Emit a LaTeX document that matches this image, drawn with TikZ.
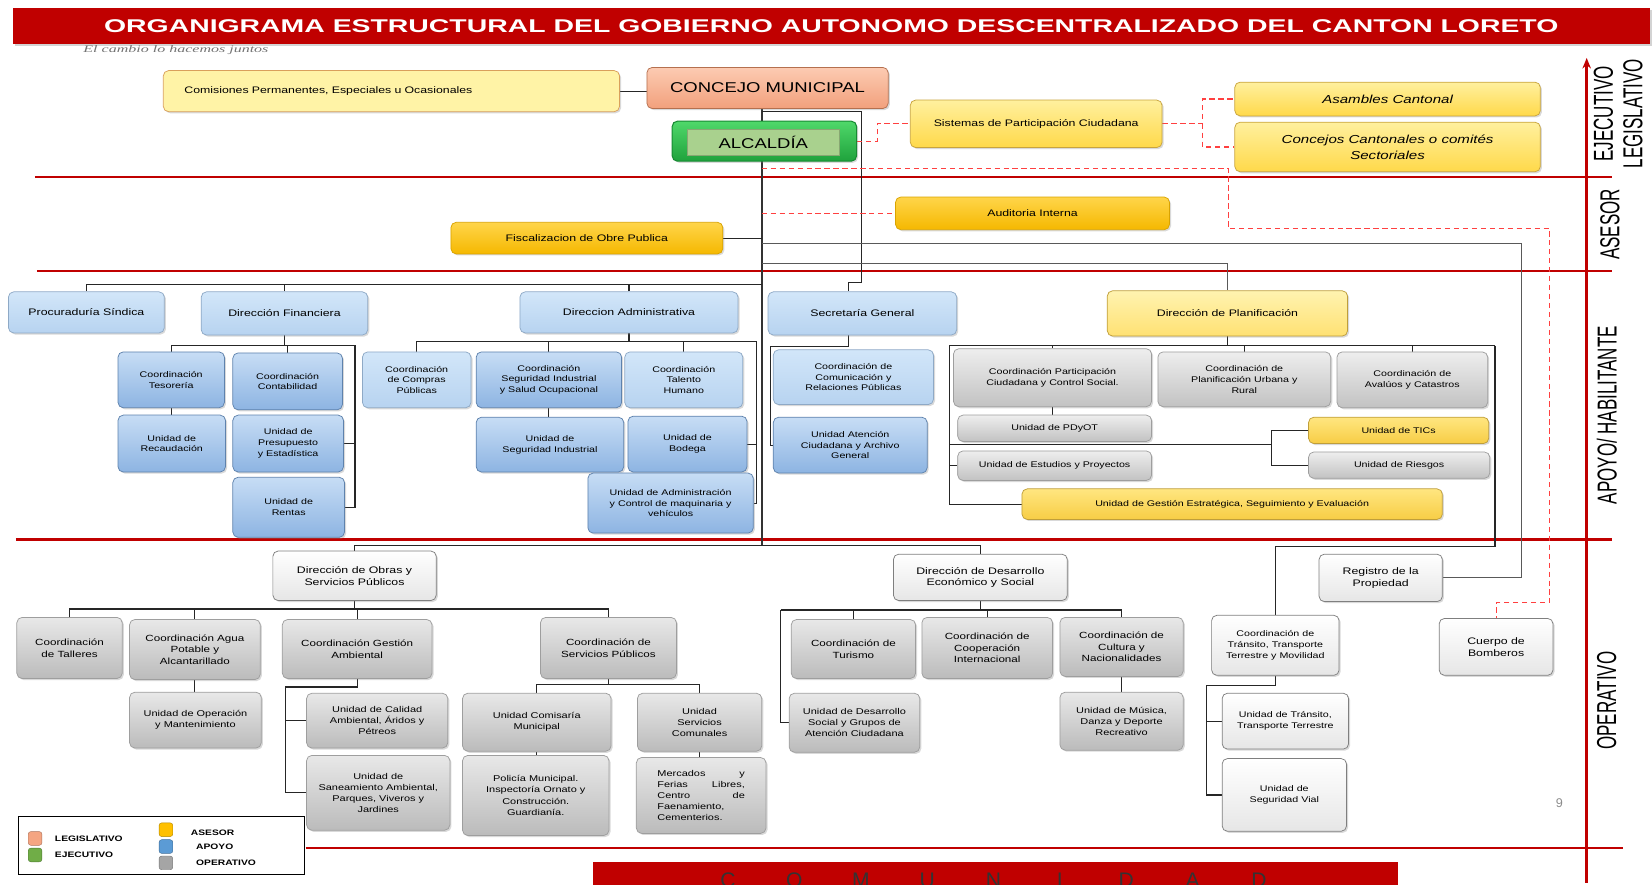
\documentclass[tikz,border=0pt]{standalone}
\usepackage{fontspec}
\setmainfont{Liberation Sans}[FakeStretch=1.3]
\newfontfamily\titlefont{Liberation Sans}[FakeStretch=1.54]
\newfontfamily\sidefont{Liberation Sans}[FakeStretch=0.62]
\newfontfamily\plainfont{Liberation Sans}
\newfontfamily\mottofont{Liberation Serif}[FakeStretch=1.6]
\usetikzlibrary{arrows.meta,shadows}
\pgfdeclarelayer{back}
\pgfsetlayers{back,main}

\definecolor{bandred}{HTML}{C00000}
\definecolor{dashred}{HTML}{FF4040}
\definecolor{comF}{HTML}{FFF3A6}\definecolor{comB}{HTML}{D9A05B}
\definecolor{concT}{HTML}{FCCBB2}\definecolor{concD}{HTML}{F2A07C}\definecolor{concB}{HTML}{B5704F}
\definecolor{alcT}{HTML}{4FD86A}\definecolor{alcD}{HTML}{1FA23C}\definecolor{alcB}{HTML}{178A33}
\definecolor{alcIn}{HTML}{A9D18E}
\definecolor{parT}{HTML}{FFF09E}\definecolor{parD}{HTML}{FFD94A}\definecolor{parB}{HTML}{C9A43C}
\definecolor{aseT}{HTML}{FFD54A}\definecolor{aseD}{HTML}{F5B800}\definecolor{aseB}{HTML}{D9A300}
\definecolor{dirT}{HTML}{D2E6F9}\definecolor{dirD}{HTML}{B7D3F0}\definecolor{dirB}{HTML}{8EA9C6}
\definecolor{coT}{HTML}{C7DDF5}\definecolor{coD}{HTML}{8DB4E2}\definecolor{coB}{HTML}{5E82AD}
\definecolor{grT}{HTML}{EEEEEE}\definecolor{grD}{HTML}{C2C2C2}\definecolor{grB}{HTML}{9E9E9E}
\definecolor{plT}{HTML}{FFF3B0}\definecolor{plD}{HTML}{FFE173}\definecolor{plB}{HTML}{BF9E3A}
\definecolor{tiT}{HTML}{FFE680}\definecolor{tiD}{HTML}{F7CD45}
\definecolor{opT}{HTML}{FFFFFF}\definecolor{opD}{HTML}{E6E6E6}\definecolor{opB}{HTML}{7F7F7F}
\definecolor{ogT}{HTML}{E8E8E8}\definecolor{ogD}{HTML}{BBBBBB}
\definecolor{legO}{HTML}{F4A582}\definecolor{legG}{HTML}{70AD47}\definecolor{legY}{HTML}{FFC000}
\definecolor{legB}{HTML}{5B9BD5}\definecolor{legS}{HTML}{A5A5A5}

\newcommand\fDir{\fontsize{9}{11}\selectfont}
\newcommand\fSmall{\fontsize{7.8}{10.2}\selectfont}
\newcommand\fOpc{\fontsize{8.5}{11}\selectfont}
\newcommand\fOpu{\fontsize{8}{10.5}\selectfont}

\tikzset{
  wh/.style 2 args={minimum width=#1, minimum height=#2},
  box/.style={draw, rounded corners=5pt, line width=.7pt, align=center, inner sep=1.5pt,
              drop shadow={opacity=.3, shadow xshift=1.5pt, shadow yshift=-1.5pt}},
  comis/.style={box, draw=comB, fill=comF, font=\fDir},
  legis/.style={box, draw=concB, top color=concT, bottom color=concD},
  ejec/.style={box, draw=alcB, top color=alcT, bottom color=alcD, line width=1pt},
  partic/.style={box, draw=parB, top color=parT, bottom color=parD},
  asesor/.style={box, draw=aseB, top color=aseT, bottom color=aseD, font=\fDir},
  apdir/.style={box, draw=dirB, top color=dirT, bottom color=dirD, font=\fDir},
  apco/.style={box, draw=coB, top color=coT, bottom color=coD, font=\fSmall},
  apgris/.style={box, draw=grB, top color=grT, bottom color=grD, font=\fSmall},
  plandir/.style={box, draw=plB, top color=plT, bottom color=plD, font=\fDir},
  planam/.style={box, draw=plB, top color=tiT, bottom color=tiD, font=\fSmall},
  opdir/.style={box, draw=opB, top color=opT, bottom color=opD, font=\fDir},
  oplite/.style={box, draw=opB, top color=opT, bottom color=opD, font=\fSmall},
  opco/.style={box, draw=grB, top color=ogT, bottom color=ogD, font=\fOpc},
  opun/.style={box, draw=grB, top color=ogT, bottom color=ogD, font=\fOpu},
  conn/.style={draw=black!85, line width=1.1pt},
  trunk/.style={draw=black!80, line width=2.2pt},
  thinline/.style={draw=black!65, line width=.9pt},
  reddash/.style={draw=dashred, line width=1.1pt, dash pattern=on 5pt off 3.5pt},
  band/.style={draw=bandred, line width=2.4pt},
  side/.style={font=\sidefont\fontsize{26}{28}\selectfont, inner sep=0pt, rotate=90},
  legsq/.style={rounded corners=2.5pt, draw=#1!70!black, fill=#1, wh={13}{13}, inner sep=0pt},
  legtx/.style={anchor=west, font=\bfseries\fontsize{7.5}{9}\selectfont, inner sep=0pt}
}

\begin{document}
\begin{tikzpicture}[x=1pt,y=-1pt]
  \useasboundingbox (0,0) rectangle (1568,840);
  \node[fill=bandred, wh={1554}{34}, inner sep=0pt, text=white,
        font=\titlefont\bfseries\fontsize{17.5}{20}\selectfont,
        drop shadow={opacity=.35, shadow xshift=2pt, shadow yshift=-2pt}] (titulo) at (789,24.5)
        {ORGANIGRAMA ESTRUCTURAL DEL GOBIERNO AUTONOMO DESCENTRALIZADO DEL CANTON LORETO};
  \node[text=black!55, font=\mottofont\itshape\fontsize{9.5}{11}\selectfont] (lema) at (167,48) {El cambio lo hacemos juntos};

  \node[comis, wh={433}{39}, align=left, text width=393] (com) at (371.5,86.5) {Comisiones Permanentes, Especiales u Ocasionales};
  \node[legis, wh={229}{39}, font=\fontsize{13.5}{15}\selectfont] (conc) at (728.5,83.5) {CONCEJO MUNICIPAL};
  \node[ejec, wh={175}{38}] (alc) at (725.5,134) {};
  \node[draw=alcIn!80!black, fill=alcIn, wh={145}{24}, inner sep=0pt, font=\fontsize{13.5}{15}\selectfont] (alct) at (724.5,135) {ALCALDÍA};
  \node[partic, wh={239}{45}, font=\fDir] (sis) at (983.5,117.5) {Sistemas de Participación Ciudadana};
  \node[partic, wh={290}{32}, font=\fontsize{11}{13}\selectfont\itshape] (asa) at (1317,94) {Asambles Cantonal};
  \node[partic, wh={290}{47}, font=\fontsize{11}{15}\selectfont\itshape] (ccs) at (1317,139.5) {Concejos Cantonales o comités\\Sectoriales};
  \node[asesor, wh={260}{31}] (aud) at (980,202.5) {Auditoria Interna};
  \node[asesor, wh={258}{30}] (fis) at (557,226) {Fiscalizacion de Obre Publica};

  \node[apdir, wh={148}{39}] (pro) at (82,296.5) {Procuraduría Síndica};
  \node[apdir, wh={158}{41}] (dfin) at (270,297.5) {Dirección Financiera};
  \node[apdir, wh={207}{39}] (dadm) at (597,296.5) {Direccion Administrativa};
  \node[apdir, wh={179}{41}] (sec) at (818.5,297.5) {Secretaría General};
  \node[plandir, wh={228}{43}] (dpla) at (1165,297.5) {Dirección de Planificación};

  \node[apco, wh={101}{53}] (tes) at (162.5,360.5) {Coordinación\\Tesorería};
  \node[apco, wh={104}{54}] (con) at (273,362) {Coordinación\\Contabilidad};
  \node[apco, wh={102}{54}] (rec) at (163,421) {Unidad de\\Recaudación};
  \node[apco, wh={105}{54}] (pre) at (273.5,421) {Unidad de\\Presupuesto\\y Estadística};
  \node[apco, wh={106}{57}] (ren) at (274,481.5) {Unidad de\\Rentas};

  \node[apdir, wh={103}{53}, font=\fSmall] (cmp) at (395.5,360.5) {Coordinación\\de Compras\\Públicas};
  \node[apco, wh={138}{53}] (csi) at (521,360.5) {Coordinación\\Seguridad Industrial\\y Salud Ocupacional};
  \node[apdir, wh={112}{53}, font=\fSmall] (cth) at (649,360.5) {Coordinación\\Talento\\Humano};
  \node[apco, wh={140}{52}] (usi) at (522,422) {Unidad de\\Seguridad Industrial};
  \node[apco, wh={113}{53}] (ubo) at (652.5,421.5) {Unidad de\\Bodega};
  \node[apco, wh={157}{57}] (uma) at (636.5,477.5) {Unidad de Administración\\y Control de maquinaria y\\vehículos};

  \node[apdir, wh={152}{52}, font=\fSmall] (ccr) at (810,358) {Coordinación de\\Comunicación y\\Relaciones Públicas};
  \node[apco, wh={146}{53}] (uac) at (807,422.5) {Unidad Atención\\Ciudadana y Archivo\\General};

  \node[apgris, wh={188}{55}] (cpc) at (999,358.5) {Coordinación Participación\\Ciudadana y Control Social.};
  \node[apgris, wh={164}{52}] (cpu) at (1181,360) {Coordinación de\\Planificación Urbana y\\Rural};
  \node[apgris, wh={143}{53}] (cav) at (1340.5,360.5) {Coordinación de\\Avalúos y Catastros};
  \node[apgris, wh={184}{25}] (upd) at (1001,406.5) {Unidad de PDyOT};
  \node[planam, wh={171}{25}] (uti) at (1327.5,408.5) {Unidad de TICs};
  \node[apgris, wh={172}{25}] (uri) at (1328,441.5) {Unidad de Riesgos};
  \node[apgris, wh={184}{28}] (uep) at (1001,442) {Unidad de Estudios y Proyectos};
  \node[planam, wh={399}{29}] (uge) at (1169.5,478.5) {Unidad de Gestión Estratégica, Seguimiento y Evaluación};

  \node[opdir, wh={155}{47}] (dob) at (336.5,546.5) {Dirección de Obras y\\Servicios Públicos};
  \node[opdir, wh={165}{44}] (dde) at (930.5,548) {Dirección de Desarrollo\\Económico y Social};
  \node[opdir, wh={117}{45}] (reg) at (1310.5,548.5) {Registro de la\\Propiedad};
  \node[opdir, wh={108}{54}] (bom) at (1420,614) {Cuerpo de\\Bomberos};
  \node[oplite, wh={121}{57}] (ctt) at (1210.5,612.5) {Coordinación de\\Tránsito, Transporte\\Terrestre y Movilidad};
  \node[oplite, wh={120}{53}] (utt) at (1220,684.5) {Unidad de Tránsito,\\Transporte Terrestre};
  \node[oplite, wh={118}{69}] (usv) at (1219,754.5) {Unidad de\\Seguridad Vial};

  \node[opco, wh={100}{58}] (cta) at (66,615) {Coordinación\\de Talleres};
  \node[opco, wh={124}{57}] (cag) at (185,616.5) {Coordinación Agua\\Potable y\\Alcantarillado};
  \node[opco, wh={142}{56}] (cga) at (339,616) {Coordinación Gestión\\Ambiental};
  \node[opco, wh={129}{58}] (csp) at (577.5,615) {Coordinación de\\Servicios Públicos};
  \node[opun, wh={125}{53}] (uom) at (185.5,683.5) {Unidad de Operación\\y Mantenimiento};
  \node[opun, wh={134}{52}] (uca) at (358,684) {Unidad de Calidad\\Ambiental, Áridos y\\Pétreos};
  \node[opun, wh={136}{71}] (usa) at (359,752.5) {Unidad de\\Saneamiento Ambiental,\\Parques, Viveros y\\Jardines};
  \node[opun, wh={141}{55}] (uco) at (509.5,685.5) {Unidad Comisaría\\Municipal};
  \node[opun, wh={118}{55}] (usc) at (664,685.5) {Unidad\\Servicios\\Comunales};
  \node[opun, wh={139}{76}] (upm) at (508.5,755) {Policía Municipal.\\Inspectoría Ornato y\\Construcción.\\Guardianía.};
  \node[opun, wh={123}{72}, text width=83, align=left] (ume) at (665.5,755)
        {Mercados\hfill y\\Ferias\hfill Libres,\\Centro\hfill de\\Faenamiento,\\Cementerios.};

  \node[opco, wh={118}{56}] (ctu) at (810,616) {Coordinación de\\Turismo};
  \node[opco, wh={124}{58}] (cci) at (937,615) {Coordinación de\\Cooperación\\Internacional};
  \node[opco, wh={117}{56}] (ccn) at (1064.5,614) {Coordinación de\\Cultura y\\Nacionalidades};
  \node[opun, wh={124}{56}] (uds) at (811,686) {Unidad de Desarrollo\\Social y Grupos de\\Atención Ciudadana};
  \node[opun, wh={117}{55}] (umd) at (1064.5,684.5) {Unidad de Música,\\Danza y Deporte\\Recreativo};

  \node[side] (lbEje) at (1522,108) {EJECUTIVO};
  \node[side] (lbLeg) at (1550,108) {LEGISLATIVO};
  \node[side] (lbAse) at (1528,213) {ASESOR};
  \node[side] (lbApo) at (1525,394) {APOYO/ HABILITANTE};
  \node[side] (lbOpe) at (1525,665) {OPERATIVO};
  \node[text=black!45, font=\plainfont\fontsize{12}{14}\selectfont] (pag) at (1480,762) {9};

  \node[draw, line width=.8pt, wh={271}{55}, inner sep=0pt] (ley) at (153,802) {};
  \node[legsq=legO] (lg1) at (33.3,795.8) {};
  \node[legsq=legG] (lg2) at (33.3,811.5) {};
  \node[legsq=legY] (lg3) at (157.5,787.5) {};
  \node[legsq=legB] (lg4) at (157.5,803.5) {};
  \node[legsq=legS] (lg5) at (157.5,819) {};
  \node[legtx] (lt1) at (52,796) {LEGISLATIVO};
  \node[legtx] (lt2) at (52,811.5) {EJECUTIVO};
  \node[legtx] (lt3) at (181,790.5) {ASESOR};
  \node[legtx] (lt4) at (186,804) {APOYO};
  \node[legtx] (lt5) at (186,819) {OPERATIVO};

  \begin{scope}
    \clip (563,818) rectangle (1327,840);
    \fill[bandred] (563,818) rectangle (1327,840);
    \foreach \l [count=\i] in {C,O,M,U,N,I,D,A,D}
      \node[anchor=base, text=black!80, font=\plainfont\fontsize{20}{22}\selectfont] (letra\i) at (628+63*\i,842) {\l};
  \end{scope}

  \coordinate (tk) at (723,518);
  \coordinate (c1) at (723,106);
  \coordinate (sg) at (818,268);
  \coordinate (r1) at (723,160);
  \coordinate (r2) at (1166,217);
  \coordinate (r3) at (1471,572);
  \coordinate (g1) at (1444,231);
  \coordinate (g2) at (1165,250);
  \coordinate (l1) at (723,270);
  \coordinate (f1) at (337,328);
  \coordinate (a1) at (718,324);
  \coordinate (s1) at (731,329);
  \coordinate (p1) at (901,328);
  \coordinate (p2) at (1419,328);
  \coordinate (p3) at (1207,421.5);
  \coordinate (p4) at (1419,519);
  \coordinate (o1) at (337,578);
  \coordinate (o2) at (271,652);
  \coordinate (o3) at (578,650);
  \coordinate (e1) at (741,579);
  \coordinate (v1) at (1145,651);

  \begin{pgfonlayer}{back}
    \draw[band] (33,168) -- (1530,168);
    \draw[band] (35,257) -- (1530,257);
    \draw[band] (15,512) -- (1530,512);
    \draw[band] (290,805) -- (1540,805);
    \draw[band, -{Stealth[length=10pt,width=8pt]}] (1506,838) -- (1506,55);

    \draw[conn] (com.east) -- (com.east -| conc.west);
    \draw[trunk] (conc.south -| tk) -- (tk);
    \draw[conn] (c1) -| (sg) -| ([xshift=-13.5pt]sec.north);
    \draw[reddash] (alc.east) -- ++(19,0) |- (sis.west);
    \draw[reddash] (sis.east) -- ++(38,0) |- (asa.west);
    \draw[reddash] (sis.east) ++(38,0) |- (ccs.west);
    \draw[reddash] (r1) -| (r2) -| (r3) -| (bom.north);
    \draw[reddash] (aud.west -| tk) -- (aud.west);
    \draw[conn] (fis.east) -- (fis.east -| tk);
    \draw[thinline] (g1 -| tk) -- (g1) |- (reg.east);
    \draw[thinline] (g2 -| tk) -| (dpla.north);

    \draw[conn] (pro.north) |- (l1);
    \draw[conn] (dfin.north) -- (dfin.north |- l1);
    \draw[conn] (dadm.north) -- (dadm.north |- l1);

    \draw[conn] (tes.north) |- (f1) |- (ren.east);
    \draw[conn] (dfin.south) -- (dfin.south |- f1);
    \draw[conn] (con.north) -- (con.north |- f1);
    \draw[conn] (pre.east) -- (pre.east -| f1);
    \draw[conn] (tes.south) -- (tes.south |- rec.north);

    \draw[conn] (cmp.north) |- (a1) |- (uma.east);
    \draw[conn] (dadm.south) -- (dadm.south |- a1);
    \draw[conn] (csi.north) -- (csi.north |- a1);
    \draw[conn] (cth.north) -- (cth.north |- a1);
    \draw[conn] (ubo.east) -- (ubo.east -| a1);
    \draw[conn] (csi.south) -- (csi.south |- usi.north);

    \draw[conn] ([xshift=-13.5pt]sec.south) |- (s1) |- (uac.west);

    \draw[conn] (p1) -- (p2);
    \draw[conn] (dpla.south) -- (dpla.south |- p1);
    \draw[conn] (cpc.north) -- (cpc.north |- p1);
    \draw[conn] (cpu.north) -- (cpu.north |- p1);
    \draw[conn] (cav.north) -- (cav.north |- p1);
    \draw[conn] (p1) |- (uge.west);
    \draw[conn] (p1 |- uep.west) -- (uep.west);
    \draw[conn] (p1 |- p3) -- (p3);
    \draw[conn] (uti.west) -| (p3) |- (uri.west);
    \draw[conn] (cpc.south) -- (cpc.south |- upd.north);
    \draw[conn] (p2) -- (p4) -| (ctt.north);

    \draw[conn] (dob.north) |- (tk) -| (dde.north);
    \draw[conn] (cta.north) |- (o1) -| (csp.north);
    \draw[conn] (dob.south) -- (dob.south |- o1);
    \draw[conn] (cag.north) -- (cag.north |- o1);
    \draw[conn] (cga.north) -- (cga.north |- o1);
    \draw[conn] (cag.south) -- (cag.south |- uom.north);
    \draw[conn] (cga.south) |- (o2) |- (usa.west);
    \draw[conn] (o2 |- uca.west) -- (uca.west);
    \draw[conn] (uco.north) |- (o3) -| (usc.north);
    \draw[conn] (csp.south) -- (csp.south |- o3);
    \draw[conn] (uco.south) -- (uco.south |- upm.north);
    \draw[conn] (usc.south) -- (usc.south |- ume.north);

    \draw[conn] (e1) -| (ccn.north);
    \draw[conn] (dde.south) -- (dde.south |- e1);
    \draw[conn] (ctu.north) -- (ctu.north |- e1);
    \draw[conn] (cci.north) -- (cci.north |- e1);
    \draw[conn] (e1) |- (uds.west);
    \draw[conn] (ccn.south) -- (ccn.south |- umd.north);

    \draw[conn] (ctt.south) |- (v1) |- (usv.west);
    \draw[conn] (v1 |- utt.west) -- (utt.west);
  \end{pgfonlayer}
\end{tikzpicture}
\end{document}
